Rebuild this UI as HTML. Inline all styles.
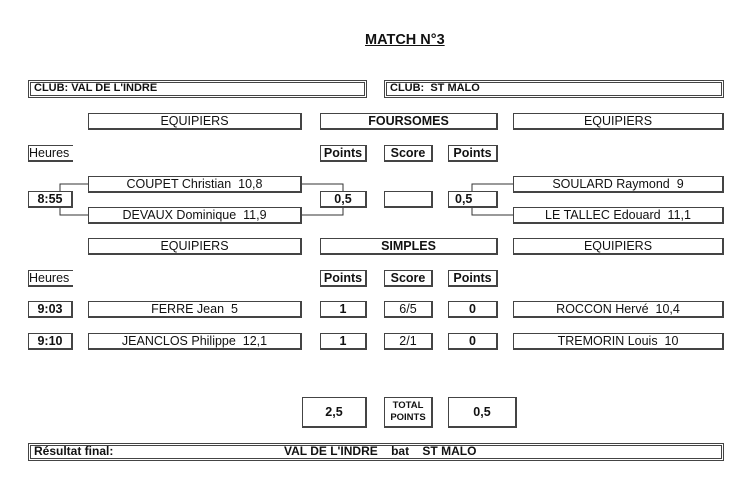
<!DOCTYPE html>
<html><head><meta charset="utf-8"><style>
body{margin:0;background:#fff;width:752px;height:495px;position:relative;font-family:"Liberation Sans",Arial,sans-serif;color:#111;overflow:hidden}
.b{position:absolute;box-sizing:border-box;border:1px solid #444;border-right:2px solid #444;border-bottom:2px solid #444;background:#fff;font-size:12.5px;text-align:center;line-height:15px;white-space:nowrap}
.bd{font-weight:bold}
.dbl{position:absolute;box-sizing:border-box;border:3px double #444;font-size:11px;font-weight:bold;line-height:11px;padding-left:3px}
</style></head><body>
<div style="position:absolute;left:365px;top:32px;font-size:14.5px;font-weight:bold;text-decoration:underline">MATCH N°3</div>
<div class="dbl" style="left:28px;top:80px;width:339px;height:18px">CLUB: VAL DE L'INDRE</div>
<div class="dbl" style="left:384px;top:80px;width:340px;height:18px">CLUB:&nbsp; ST MALO</div>

<div class="b" style="left:88px;top:113px;width:214px;height:17px">EQUIPIERS</div>
<div class="b bd" style="left:320px;top:113px;width:178px;height:17px">FOURSOMES</div>
<div class="b" style="left:513px;top:113px;width:211px;height:17px">EQUIPIERS</div>

<div class="b" style="left:28px;top:145px;width:45px;height:17px;border-right:none;text-align:left">Heures</div>
<div class="b bd" style="left:320px;top:145px;width:47px;height:17px">Points</div>
<div class="b bd" style="left:384px;top:145px;width:49px;height:17px">Score</div>
<div class="b bd" style="left:448px;top:145px;width:50px;height:17px">Points</div>

<svg style="position:absolute;left:0;top:0" width="752" height="495"><g fill="none" stroke="#333" stroke-width="1">
<path d="M88 184H60V215H88"/><path d="M301 184H343V199"/><path d="M301 215H343V199"/>
<path d="M513 184H472V215H513"/></g></svg>

<div class="b" style="left:88px;top:176px;width:214px;height:17px">COUPET Christian&nbsp; 10,8</div>
<div class="b" style="left:88px;top:207px;width:214px;height:17px">DEVAUX Dominique&nbsp; 11,9</div>
<div class="b bd" style="left:28px;top:191px;width:45px;height:17px">8:55</div>
<div class="b bd" style="left:320px;top:191px;width:47px;height:17px">0,5</div>
<div class="b" style="left:384px;top:191px;width:49px;height:17px"></div>
<div class="b bd" style="left:448px;top:191px;width:50px;height:17px;text-align:left;padding-left:6px">0,5</div>
<div class="b" style="left:513px;top:176px;width:211px;height:17px">SOULARD Raymond&nbsp; 9</div>
<div class="b" style="left:513px;top:207px;width:211px;height:17px">LE TALLEC Edouard&nbsp; 11,1</div>

<div class="b" style="left:88px;top:238px;width:214px;height:17px">EQUIPIERS</div>
<div class="b bd" style="left:320px;top:238px;width:178px;height:17px">SIMPLES</div>
<div class="b" style="left:513px;top:238px;width:211px;height:17px">EQUIPIERS</div>

<div class="b" style="left:28px;top:270px;width:45px;height:17px;border-right:none;text-align:left">Heures</div>
<div class="b bd" style="left:320px;top:270px;width:47px;height:17px">Points</div>
<div class="b bd" style="left:384px;top:270px;width:49px;height:17px">Score</div>
<div class="b bd" style="left:448px;top:270px;width:50px;height:17px">Points</div>

<div class="b bd" style="left:28px;top:301px;width:45px;height:17px">9:03</div>
<div class="b" style="left:88px;top:301px;width:214px;height:17px">FERRE Jean&nbsp; 5</div>
<div class="b bd" style="left:320px;top:301px;width:47px;height:17px">1</div>
<div class="b" style="left:384px;top:301px;width:49px;height:17px">6/5</div>
<div class="b bd" style="left:448px;top:301px;width:50px;height:17px">0</div>
<div class="b" style="left:513px;top:301px;width:211px;height:17px">ROCCON Hervé&nbsp; 10,4</div>

<div class="b bd" style="left:28px;top:333px;width:45px;height:17px">9:10</div>
<div class="b" style="left:88px;top:333px;width:214px;height:17px">JEANCLOS Philippe&nbsp; 12,1</div>
<div class="b bd" style="left:320px;top:333px;width:47px;height:17px">1</div>
<div class="b" style="left:384px;top:333px;width:49px;height:17px">2/1</div>
<div class="b bd" style="left:448px;top:333px;width:50px;height:17px">0</div>
<div class="b" style="left:513px;top:333px;width:211px;height:17px">TREMORIN Louis&nbsp; 10</div>

<div class="b bd" style="left:302px;top:397px;width:65px;height:31px;line-height:28px">2,5</div>
<div class="b bd" style="left:384px;top:397px;width:49px;height:31px;font-size:9.5px;line-height:12px;padding-top:2px">TOTAL<br>POINTS</div>
<div class="b bd" style="left:448px;top:397px;width:69px;height:31px;line-height:28px">0,5</div>

<div class="dbl" style="left:28px;top:443px;width:696px;height:18px;font-size:12px">Résultat final:<span style="position:absolute;left:253px">VAL DE L'INDRE&nbsp;&nbsp;&nbsp; bat&nbsp;&nbsp;&nbsp; ST MALO</span></div>
</body></html>
